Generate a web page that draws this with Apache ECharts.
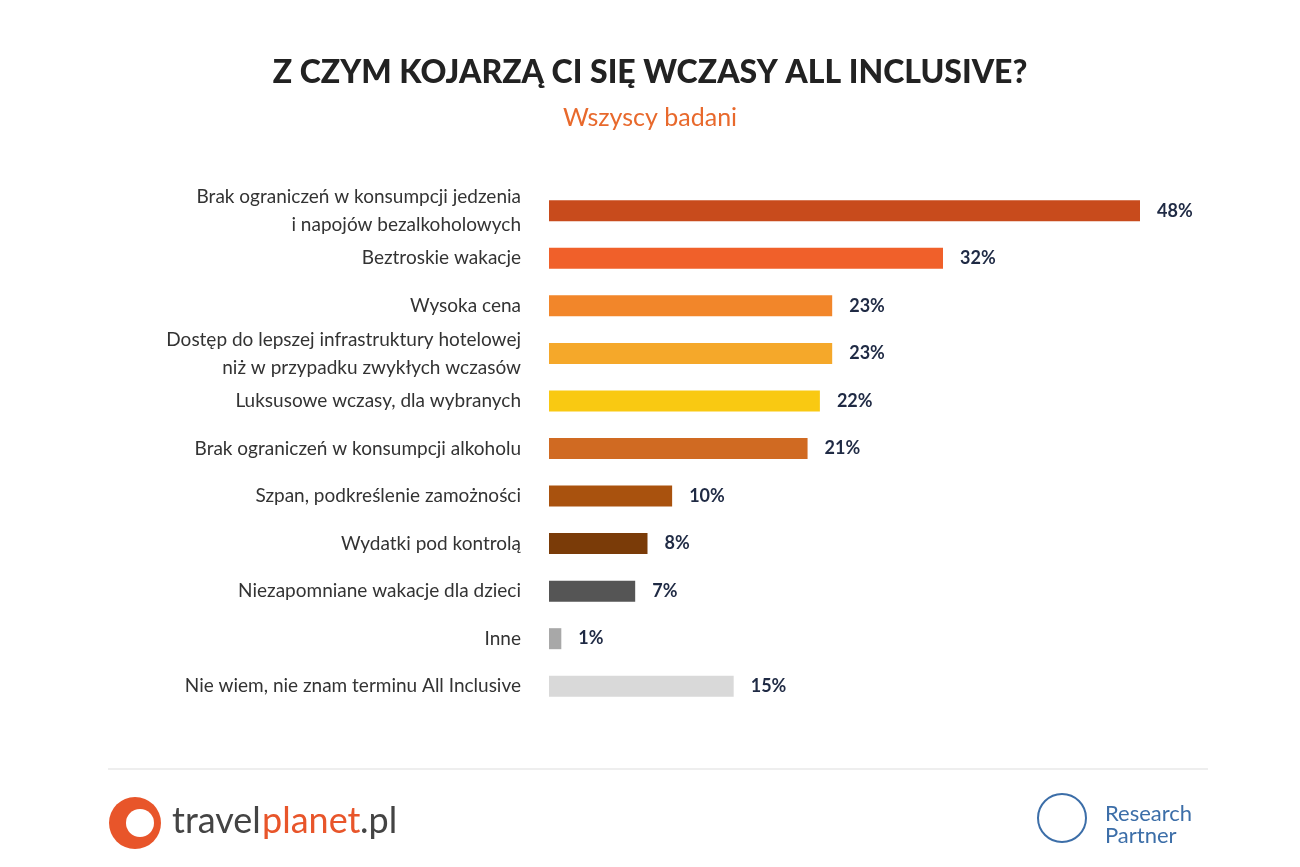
<!DOCTYPE html>
<html>
<head>
<meta charset="utf-8">
<script src="https://cdn.jsdelivr.net/npm/echarts@6/dist/echarts.min.js"></script>
<style>html,body{margin:0;background:#fff}#c{width:1300px;height:867px}</style>
</head>
<body>
<div id="c"></div>
<script>
var categories = [
  'Brak ograniczeń w konsumpcji jedzenia\ni napojów bezalkoholowych',
  'Beztroskie wakacje',
  'Wysoka cena',
  'Dostęp do lepszej infrastruktury hotelowej\nniż w przypadku zwykłych wczasów',
  'Luksusowe wczasy, dla wybranych',
  'Brak ograniczeń w konsumpcji alkoholu',
  'Szpan, podkreślenie zamożności',
  'Wydatki pod kontrolą',
  'Niezapomniane wakacje dla dzieci',
  'Inne',
  'Nie wiem, nie znam terminu All Inclusive'
];
var values = [48, 32, 23, 23, 22, 21, 10, 8, 7, 1, 15];
var barColors = ['#C84B1C', '#F0602A', '#F2862A', '#F5A82A', '#F9C912', '#D06A22', '#A9520E', '#7A3B08', '#555555', '#A8A8A8', '#D9D9D9'];

var chart = echarts.init(document.getElementById('c'));
chart.setOption({
  backgroundColor: '#fff',
  title: [
    {text: 'Z CZYM KOJARZĄ CI SIĘ WCZASY ALL INCLUSIVE?', left: 'center', top: 52,
     textStyle: {fontFamily: 'Lato', fontWeight: 900, fontSize: 32, color: '#222'}},
    {text: 'Wszyscy badani', left: 'center', top: 100,
     textStyle: {fontFamily: 'Lato', fontWeight: 'normal', fontSize: 25, color: '#E8692C'}}
  ],
  grid: {left: 549, right: 160, top: 187, bottom: 157},
  xAxis: {type: 'value', min: 0, max: 48, show: false},
  yAxis: {
    type: 'category', data: categories, inverse: true,
    axisLine: {show: false}, axisTick: {show: false},
    axisLabel: {margin: 28, align: 'right', fontFamily: 'Lato', fontSize: 19, lineHeight: 28, color: '#333'}
  },
  series: [{
    type: 'bar', data: values, barWidth: 21,
    itemStyle: {color: function (p) { return barColors[p.dataIndex]; }},
    label: {show: true, position: 'right', distance: 17, formatter: '{c}%',
      fontFamily: 'Lato', fontWeight: 'bold', fontSize: 18, color: '#1F2A44'}
  }],
  graphic: [
    {type: 'line', shape: {x1: 108, y1: 769, x2: 1208, y2: 769}, style: {stroke: '#ddd', lineWidth: 1}},
    {type: 'circle', shape: {cx: 135, cy: 823, r: 26}, style: {fill: '#E8552A'}},
    {type: 'circle', shape: {cx: 140, cy: 823, r: 14}, style: {fill: '#fff'}},
    {type: 'text', left: 172, top: 803, style: {text: 'travel', fontFamily: 'Lato', fontSize: 36, fill: '#444'}},
    {type: 'text', left: 262, top: 803, style: {text: 'planet', fontFamily: 'Lato', fontSize: 36, fill: '#E8552A'}},
    {type: 'text', left: 360, top: 803, style: {text: '.pl', fontFamily: 'Lato', fontSize: 36, fill: '#444'}},
    {type: 'circle', shape: {cx: 1062, cy: 818, r: 24}, style: {fill: 'none', stroke: '#3C6EA8', lineWidth: 2}},
    {type: 'text', left: 1105, top: 803, style: {text: 'Research\nPartner', fontFamily: 'Lato', fontSize: 22, lineHeight: 22, fill: '#3C6EA8', align: 'left'}}
  ]
});
</script>
</body>
</html>
